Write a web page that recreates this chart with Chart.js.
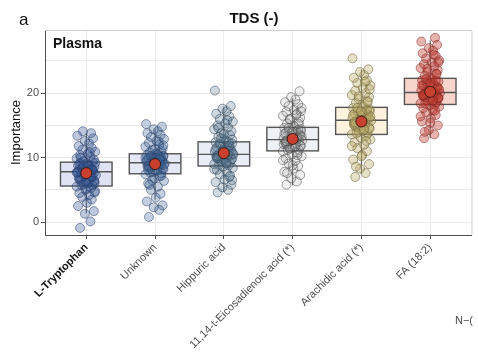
<!DOCTYPE html>
<html>
<head>
<meta charset="utf-8">
<script src="https://cdn.jsdelivr.net/npm/chart.js@4"></script>
<style>
  body { margin: 0; background: #fff; }
  canvas { display: block; }
</style>
</head>
<body>
<canvas id="Chart1" width="478" height="362"></canvas>
<script>
// box plot + jitter for TDS (-), Plasma

// categories
const categories = ['L-Tryptophan', 'Unknown', 'Hippuric acid', '11,14-t-Eicosadienoic acid (*)', 'Arachidic acid (*)', 'FA (18:2)'];

// box statistics
const boxQ1 = [5.6, 7.5, 8.7, 11.05, 13.6, 18.25];
const boxMedian = [7.8, 9.2, 10.5, 12.8, 15.8, 20.1];
const boxQ3 = [9.3, 10.6, 12.45, 14.7, 17.8, 22.3];
const whiskerLow = [1.4, 3.5, 4.7, 5.7, 7.5, 13.0];
const whiskerHigh = [13.8, 14.5, 17.9, 19.2, 23.7, 28.2];
const meanValues = [7.6, 9.0, 10.7, 12.9, 15.6, 20.2];

// horizontal jitter offsets (shared)
const jitter = [-0.09,0.06,-0.02,0.11,-0.12,0.01,0.08,-0.06,0.04,-0.1,
  0.13,-0.01,0.07,-0.14,0.09,-0.04,0.0,0.12,-0.08,0.05,
  -0.11,0.09,-0.03,0.14,-0.07,0.02,-0.13,0.07,-0.01,0.1,
  -0.1,0.05,-0.05,0.12,-0.12,0.03,0.01,-0.08,0.09,-0.04,
  0.11,-0.14,0.06,-0.09,0.02,0.13,-0.06,0.08,-0.11,0.04,
  -0.02,0.1,-0.13,0.07,-0.05,0.12,-0.07,0.03,0.11,-0.1];

// individual importance values per category
const tryptophanVals = [-0.9,0.1,1.3,1.7,2.5,3.0,3.5,3.9,4.2,4.5,4.8,5.0,5.3,5.5,
  5.7,5.9,6.1,6.3,6.5,6.7,6.9,7.0,7.2,7.3,7.5,7.6,7.7,7.8,
  7.9,8.0,8.2,8.3,8.5,8.6,8.8,8.9,9.1,9.2,9.3,9.5,
  9.7,9.9,10.1,10.4,10.6,10.9,11.2,11.5,11.8,12.2,12.6,13.0,13.4,13.8,14.1,6.0,
  5.8,6.1,6.4,6.6,6.9,7.1,7.4,7.6,7.8,8.0,8.2,8.4,8.7,9.0,9.2,6.3,7.0,7.7,8.1,8.9,5.2,4.6,10.0,10.8];
const unknownVals = [0.8,1.9,2.3,2.6,3.2,3.8,4.4,5.0,5.5,6.0,6.4,6.8,7.1,7.4,
  7.6,7.8,8.0,8.2,8.4,8.6,8.7,8.9,9.0,9.1,9.2,9.3,9.4,9.5,
  9.6,9.7,9.9,10.0,10.1,10.2,10.4,10.5,10.6,10.8,
  11.0,11.2,11.4,11.7,12.0,12.3,12.6,12.9,13.2,13.5,13.8,14.1,14.4,14.8,15.2,9.8,8.5,10.3,
  7.7,8.0,8.3,8.6,8.8,9.0,9.2,9.4,9.6,9.9,10.1,10.3,10.5,8.1,8.9,9.3,9.7,10.0,7.2,6.5,11.3,11.9,5.8,12.5];
const hippuricVals = [4.6,5.0,5.4,5.8,6.2,6.6,7.0,7.4,7.8,8.1,8.4,8.6,8.8,9.0,
  9.2,9.4,9.6,9.8,9.9,10.1,10.2,10.3,10.4,10.5,10.6,10.7,10.9,11.0,
  11.2,11.4,11.6,11.8,12.0,12.2,12.4,12.6,12.9,13.2,
  13.5,13.8,14.1,14.4,14.7,15.0,15.3,15.6,16.0,16.4,16.8,17.2,17.6,18.0,20.4,11.5,9.5,12.8,
  8.9,9.3,9.7,10.0,10.3,10.5,10.7,11.0,11.3,11.6,11.9,12.2,9.1,9.9,10.6,11.1,12.4,8.2,7.2,13.0,13.7,6.5,14.6,15.8];
const eicosaVals = [5.8,6.3,6.8,7.3,7.8,8.3,8.7,9.1,9.5,9.9,10.2,10.5,10.8,11.0,
  11.2,11.4,11.6,11.8,12.0,12.2,12.4,12.5,12.6,12.7,12.8,12.9,13.0,13.2,
  13.4,13.6,13.8,14.0,14.2,14.4,14.6,14.8,15.0,15.3,
  15.6,15.9,16.2,16.5,16.8,17.1,17.4,17.7,18.0,18.3,18.6,19.0,19.4,20.3,12.1,13.1,11.5,14.1,
  11.2,11.6,11.9,12.2,12.5,12.8,13.1,13.4,13.7,14.0,14.3,14.6,11.8,12.6,13.3,13.9,10.4,9.6,15.2,16.0,8.8,17.2,7.6,16.6];
const arachidicVals = [7.0,7.6,8.3,9.0,9.7,10.4,11.0,11.5,12.0,12.4,12.8,13.1,13.4,13.6,
  13.8,14.0,14.3,14.5,14.8,15.0,15.2,15.4,15.6,15.7,15.8,15.9,16.1,16.3,
  16.5,16.7,16.9,17.1,17.3,17.5,17.7,17.9,18.2,18.5,
  18.8,19.1,19.4,19.7,20.0,20.4,20.8,21.2,21.6,22.0,22.4,22.8,23.3,23.7,25.4,16.0,14.7,17.2,
  13.8,14.2,14.6,15.0,15.3,15.6,15.9,16.2,16.6,17.0,17.4,17.7,14.4,15.5,16.4,17.2,12.6,11.8,18.6,19.5,10.2,20.6,8.6,21.8];
const faVals = [13.0,13.6,14.3,15.0,15.6,16.1,16.6,17.0,17.4,17.7,17.9,18.1,18.2,18.4,
  18.6,18.8,19.0,19.2,19.4,19.6,19.7,19.8,19.9,20.0,20.1,20.2,20.4,20.6,
  20.8,21.0,21.2,21.4,21.6,21.8,22.0,22.2,22.4,22.7,
  23.0,23.3,23.6,23.9,24.2,24.5,24.8,25.1,25.4,25.8,26.2,26.6,27.0,27.5,28.0,28.6,20.5,19.3,
  18.4,18.8,19.2,19.5,19.8,20.1,20.4,20.8,21.2,21.6,22.0,22.2,18.9,19.7,20.6,21.4,17.3,16.4,23.0,23.8,15.4,24.8,14.0,26.0];
const allVals = [tryptophanVals, unknownVals, hippuricVals, eicosaVals, arachidicVals, faVals];

// colours
const pointFill = ['rgba(50,85,145,0.32)', 'rgba(60,100,150,0.3)', 'rgba(85,120,145,0.28)', 'rgba(150,150,150,0.16)', 'rgba(185,170,100,0.36)', 'rgba(190,55,45,0.38)'];
const pointBorder = ['rgba(35,55,100,0.5)', 'rgba(40,60,100,0.5)', 'rgba(45,65,85,0.5)', 'rgba(70,70,70,0.5)', 'rgba(110,100,60,0.55)', 'rgba(125,40,35,0.5)'];
const boxFill = ['#dfe2f2', '#e4e7f4', '#e8edf6', '#eef1f5', '#fdf2dd', '#f8d5cc'];

const datasets = allVals.map((vals, c) => ({
    type: 'scatter',
    data: vals.map((v, i) => ({ x: c + 1 + jitter[i % jitter.length], y: v })),
    backgroundColor: pointFill[c],
    borderColor: pointBorder[c],
    borderWidth: 1,
    pointRadius: 4.5,
    order: 1,
}));
datasets.push({
    type: 'scatter',
    data: meanValues.map((v, i) => ({ x: i + 1, y: v })),
    backgroundColor: '#c9402e',
    borderColor: '#3a1c18',
    borderWidth: 1,
    pointRadius: 5.5,
    order: -1,
});

// draws boxes and whiskers behind the points
const boxPlugin = {
    id: 'boxes',
    beforeDatasetsDraw(chart) {
        const { ctx, scales: { x, y } } = chart;
        ctx.save();
        ctx.strokeStyle = '#555555';
        for (let i = 0; i < categories.length; i++) {
            const cx = x.getPixelForValue(i + 1);
            const l = x.getPixelForValue(i + 1 - 0.375);
            const r = x.getPixelForValue(i + 1 + 0.375);
            const top = y.getPixelForValue(boxQ3[i]);
            const bot = y.getPixelForValue(boxQ1[i]);
            ctx.lineWidth = 1;
            ctx.beginPath();
            ctx.moveTo(cx, y.getPixelForValue(whiskerHigh[i]));
            ctx.lineTo(cx, top);
            ctx.moveTo(cx, bot);
            ctx.lineTo(cx, y.getPixelForValue(whiskerLow[i]));
            ctx.stroke();
            ctx.fillStyle = boxFill[i];
            ctx.fillRect(l, top, r - l, bot - top);
            ctx.lineWidth = 1.4;
            ctx.strokeRect(l, top, r - l, bot - top);
            const m = y.getPixelForValue(boxMedian[i]);
            ctx.beginPath();
            ctx.moveTo(l, m);
            ctx.lineTo(r, m);
            ctx.stroke();
        }
        ctx.restore();
    },
    afterDraw(chart) {
        const { ctx, chartArea: a } = chart;
        ctx.save();
        // light panel border on top and right
        ctx.strokeStyle = '#cfcfcf';
        ctx.lineWidth = 1;
        ctx.beginPath();
        ctx.moveTo(a.left, a.top + 0.5);
        ctx.lineTo(a.right + 0.5, a.top + 0.5);
        ctx.lineTo(a.right + 0.5, a.bottom);
        ctx.stroke();
        ctx.fillStyle = '#111';
        ctx.font = '17px "Liberation Sans", Arial, sans-serif';
        ctx.textAlign = 'left';
        ctx.fillText('a', 19, 25);
        ctx.font = 'bold 15px "Liberation Sans", Arial, sans-serif';
        ctx.textAlign = 'center';
        ctx.fillText('TDS (-)', 254, 23);
        ctx.font = 'bold 14px "Liberation Sans", Arial, sans-serif';
        ctx.textAlign = 'left';
        ctx.fillText('Plasma', 53, 48);
        ctx.fillStyle = '#4d4d4d';
        ctx.font = '11px "Liberation Sans", Arial, sans-serif';
        ctx.fillText('N\u2212(', 455, 324);
        ctx.restore();
    }
};

const ctx = document.getElementById('Chart1').getContext('2d');
const Chart1 = new Chart(ctx, {
    type: 'scatter',
    data: { datasets: datasets },
    plugins: [boxPlugin],
    options: {
        responsive: false,
        animation: false,
        layout: { padding: { top: 30, right: 5, left: 0, bottom: 0 } },
        plugins: { legend: { display: false }, tooltip: { enabled: false } },
        scales: {
            x: {
                type: 'linear',
                min: 0.4,
                max: 6.6,
                afterBuildTicks: (scale) => { scale.ticks = categories.map((c, i) => ({ value: i + 1 })); },
                afterFit: (scale) => { scale.height = 127; },
                border: { color: '#4d4d4d', width: 1 },
                grid: { color: '#ebebeb', lineWidth: 1, tickColor: '#4d4d4d', tickLength: 4 },
                ticks: {
                    autoSkip: false,
                    minRotation: 45,
                    maxRotation: 45,
                    padding: 2,
                    callback: (v) => categories[v - 1],
                    color: (c) => c.index === 0 ? '#111111' : '#4d4d4d',
                    font: (c) => ({ family: '"Liberation Sans", Arial, sans-serif', size: 11, weight: c.index === 0 ? 'bold' : 'normal' }),
                }
            },
            y: {
                min: -2,
                max: 29.8,
                afterBuildTicks: (scale) => { scale.ticks = [0, 5, 10, 15, 20, 25].map(v => ({ value: v })); },
                afterFit: (scale) => { scale.width = 45; },
                border: { color: '#4d4d4d', width: 1 },
                grid: {
                    color: '#ebebeb',
                    lineWidth: 1,
                    tickLength: 4,
                    tickColor: (c) => c.tick && c.tick.value % 10 === 0 ? '#4d4d4d' : 'rgba(0,0,0,0)',
                },
                title: {
                    display: true,
                    text: 'Importance',
                    color: '#111',
                    padding: { top: 9, bottom: 0 },
                    font: { family: '"Liberation Sans", Arial, sans-serif', size: 13 },
                },
                ticks: {
                    padding: 2,
                    color: '#4d4d4d',
                    font: { family: '"Liberation Sans", Arial, sans-serif', size: 11 },
                    callback: (v) => v % 10 === 0 ? v : '',
                }
            }
        }
    }
});
</script>
</body>
</html>
